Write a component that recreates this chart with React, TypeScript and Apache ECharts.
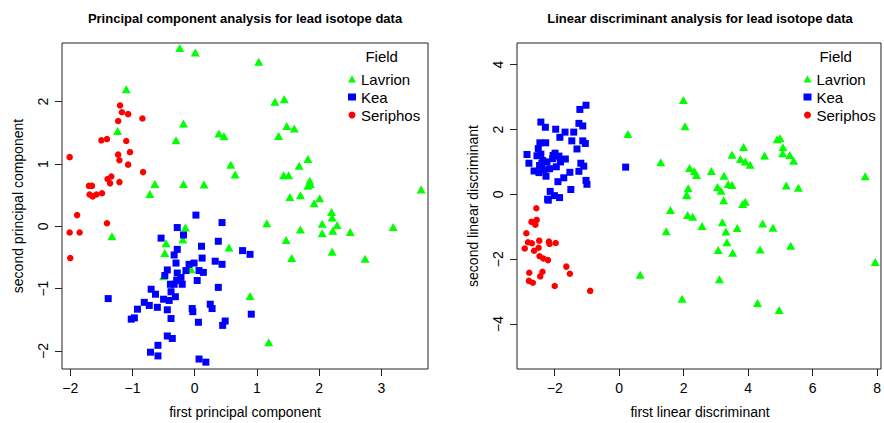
import React, { useEffect, useRef } from "react";
import * as echarts from "echarts";

// ---------- PCA panel data ----------
const pcaLavrion: number[][] = [
  [-0.24, 2.86], [0.01, 2.79], [-1.10, 2.20], [-1.24, 1.53], [-0.18, 1.65], [-0.30, 1.38],
  [0.39, 1.49], [0.47, 1.45], [0.58, 0.99], [0.65, 0.83], [-0.64, 0.68], [-0.18, 0.68],
  [0.15, 0.67], [-0.72, 0.52], [-1.33, -0.16], [-0.15, -0.02], [-0.46, -0.27], [-0.19, -0.21],
  [-0.48, -0.43], [0.55, -0.34], [-0.06, -0.69], [-0.50, -0.80], [0.89, -1.12],
  [1.03, 2.64], [1.29, 2.00], [1.44, 2.04], [1.48, 1.61], [1.60, 1.57], [1.35, 1.45],
  [1.82, 1.08], [1.68, 0.97], [1.43, 0.82], [1.51, 0.82], [1.85, 0.73], [1.82, 0.65],
  [1.86, 0.68], [3.64, 0.59], [1.53, 0.47], [1.70, 0.50], [2.01, 0.45], [1.92, 0.37],
  [2.20, 0.23], [2.21, 0.14], [1.16, 0.05], [1.70, -0.05], [2.05, 0.04], [2.29, 0.02],
  [2.05, -0.11], [2.22, -0.07], [2.50, -0.09], [3.19, -0.01], [1.47, -0.22], [1.56, -0.51],
  [2.21, -0.41], [2.74, -0.52], [1.19, -1.86]
];
const pcaKea: number[][] = [
  [0.02, 0.18], [0.44, 0.06], [-0.28, -0.02], [-0.18, -0.14], [-0.54, -0.19], [0.11, -0.32],
  [0.38, -0.24], [-0.28, -0.37], [-0.33, -0.46], [0.77, -0.39], [0.89, -0.45], [0.12, -0.51],
  [-0.30, -0.59], [-0.09, -0.61], [-0.01, -0.59], [0.33, -0.56], [0.44, -0.61], [-0.44, -0.70],
  [-0.48, -0.79], [-0.28, -0.75], [-0.14, -0.71], [0.07, -0.71], [0.14, -0.74], [-0.22, -0.82],
  [0.04, -0.87], [-0.29, -0.87], [-0.39, -0.93], [-0.33, -0.93], [-0.20, -0.93], [-0.70, -1.01],
  [0.38, -0.98], [-0.38, -1.05], [-0.63, -1.09], [-1.39, -1.16], [-0.50, -1.17], [-0.41, -1.19],
  [-0.31, -1.13], [-0.81, -1.22], [-0.73, -1.27], [-0.60, -1.30], [-0.92, -1.33], [-0.44, -1.34],
  [0.25, -1.25], [0.28, -1.32], [-0.04, -1.32], [-0.03, -1.37], [0.91, -1.41], [-1.02, -1.49],
  [-0.97, -1.47], [-0.38, -1.48], [0.06, -1.54], [0.49, -1.52], [0.45, -1.59], [-0.44, -1.76],
  [-0.36, -1.80], [-0.59, -1.91], [-0.71, -2.02], [-0.59, -2.08], [0.07, -2.13], [0.18, -2.18]
];
const pcaSeriphos: number[][] = [
  [-1.20, 1.94], [-1.17, 1.83], [-1.07, 1.80], [-1.23, 1.69], [-0.84, 1.73], [-1.50, 1.38],
  [-1.41, 1.40], [-1.10, 1.37], [-2.01, 1.11], [-1.23, 1.15], [-1.04, 1.19], [-1.21, 1.06],
  [-1.07, 0.99], [-0.83, 0.87], [-1.34, 0.80], [-1.40, 0.76], [-1.36, 0.69], [-1.21, 0.71],
  [-1.70, 0.65], [-1.65, 0.65], [-1.69, 0.51], [-1.64, 0.48], [-1.58, 0.51], [-1.49, 0.53],
  [-1.89, 0.18], [-1.41, 0.05], [-2.01, -0.10], [-1.85, -0.10], [-2.00, -0.51]
];

// ---------- LDA panel data ----------
const ldaLavrion: number[][] = [
  [2.10, -0.03], [1.59, -0.48], [2.12, -0.64], [2.28, -0.69], [1.46, -1.14], [0.65, -2.48],
  [1.95, -3.22], [1.99, 2.91], [2.04, 2.10], [0.27, 1.86], [1.29, 0.99], [2.18, 0.81],
  [2.33, 0.72], [2.40, 0.60], [2.14, 0.19], [2.09, -0.01], [4.90, 1.70], [4.99, 1.73],
  [5.08, 1.45], [3.86, 1.46], [3.50, 1.22], [4.51, 1.20], [5.07, 1.27], [5.29, 1.21],
  [5.41, 1.04], [3.76, 1.09], [3.91, 1.01], [4.06, 0.91], [2.86, 0.72], [3.25, 0.57],
  [3.38, 0.32], [3.50, 0.29], [3.05, 0.23], [3.16, 0.11], [5.18, 0.27], [5.56, 0.20],
  [7.63, 0.56], [3.24, -0.18], [3.83, -0.30], [3.91, -0.23], [2.57, -0.98], [3.20, -0.86],
  [3.31, -1.15], [3.66, -1.04], [4.45, -0.90], [4.77, -1.03], [3.34, -1.48], [3.07, -1.72],
  [3.52, -1.80], [4.37, -1.70], [5.32, -1.59], [7.94, -2.09], [3.11, -2.62], [4.29, -3.35],
  [4.96, -3.57]
];
const ldaKea: number[][] = [
  [-1.03, 2.75], [-1.22, 2.62], [-2.43, 2.23], [-2.29, 2.07], [-1.97, 2.01], [-1.68, 1.92],
  [-1.41, 1.92], [-1.84, 1.76], [-1.25, 2.19], [-1.13, 2.11], [-1.47, 1.65], [-1.13, 1.65],
  [-1.05, 1.57], [-2.46, 1.59], [-2.28, 1.59], [-1.31, 1.40], [-2.51, 1.41], [-2.86, 1.23],
  [-2.55, 1.19], [-2.43, 1.24], [-1.99, 1.27], [-1.87, 1.18], [-2.06, 1.10], [-1.67, 1.09],
  [-1.82, 1.00], [-2.80, 0.96], [-2.37, 1.04], [-2.24, 1.00], [-2.47, 0.89], [-2.16, 0.79],
  [-1.19, 0.96], [-1.10, 0.87], [-2.64, 0.72], [-2.49, 0.67], [-2.34, 0.75], [-2.27, 0.56],
  [-1.53, 0.68], [-1.25, 0.71], [0.20, 0.84], [-1.72, 0.51], [-1.90, 0.39], [-1.03, 0.43],
  [-1.00, 0.31], [-1.50, 0.15], [-2.14, 0.09], [-2.01, -0.04], [-1.85, -0.10], [-2.22, -0.15],
  [-2.20, -0.18], [-2.40, 0.95], [-2.05, 1.20], [-1.95, 0.85]
];
const ldaSeriphos: number[][] = [
  [-2.57, -0.43], [-2.72, -0.85], [-2.56, -0.79], [-2.60, -0.94], [-2.88, -1.20], [-2.83, -1.48],
  [-2.71, -1.51], [-2.48, -1.43], [-2.93, -1.67], [-2.64, -1.74], [-2.50, -1.65], [-2.18, -1.46],
  [-2.16, -1.53], [-1.97, -1.50], [-2.47, -1.91], [-2.35, -1.98], [-2.21, -2.03], [-2.79, -2.42],
  [-2.38, -2.39], [-2.45, -2.53], [-2.80, -2.67], [-2.68, -2.73], [-1.64, -2.23], [-1.53, -2.45],
  [-2.00, -2.83], [-0.90, -2.98]
];

// ---------- axis ticks ----------
const pcaXTicks = [-2, -1, 0, 1, 2, 3];
const pcaYTicks = [-2, -1, 0, 1, 2];
const ldaXTicks = [-2, 0, 2, 4, 6, 8];
const ldaYTicks = [-4, -2, 0, 2, 4];

const groups = ["Lavrion", "Kea", "Seriphos"];
const FONT = '"Liberation Sans", Arial, Helvetica, sans-serif';
const fmt = (v: number) => String(v).replace("-", "\u2212");

function makeAxis(ticks: number[], min: number, max: number, gridIndex: number, isY: boolean) {
  return {
    type: "value",
    gridIndex,
    min,
    max,
    position: isY ? "left" : "bottom",
    axisLine: { show: false, onZero: false },
    splitLine: { show: false },
    axisTick: {
      show: true,
      customValues: ticks,
      length: 7,
      inside: false,
      lineStyle: { color: "#222", width: 1 },
    },
    axisLabel: {
      show: true,
      customValues: ticks,
      formatter: fmt,
      margin: 12,
      rotate: isY ? 90 : 0,
      fontFamily: FONT,
      fontSize: 14,
      color: "#000",
    },
  };
}

export default function App() {
  const ref = useRef<HTMLDivElement>(null);
  useEffect(() => {
    document.body.style.margin = "0";
    if (!ref.current) return;
    const chart = echarts.init(ref.current, null, { renderer: "svg" });
    const symbols = ["triangle", "rect", "circle"];
    const sizes: any[] = [[9, 8], 7, 6.5];
    const colors = ["#00FF00", "#0000FF", "#FF0000"];
    const pcaData = [pcaLavrion, pcaKea, pcaSeriphos];
    const ldaData = [ldaLavrion, ldaKea, ldaSeriphos];
    const series: any[] = [];
    [pcaData, ldaData].forEach((set, gi) => {
      set.forEach((d, i) => {
        series.push({
          type: "scatter",
          name: groups[i],
          xAxisIndex: gi,
          yAxisIndex: gi,
          data: d,
          symbol: symbols[i],
          symbolSize: sizes[i],
          itemStyle: { color: colors[i], opacity: 1 },
          emphasis: { disabled: true },
          z: 2 + i,
        });
      });
    });
    const legendData = groups.map((g, i) => ({ name: g, icon: symbols[i] }));
    const legendBase = {
      orient: "vertical",
      top: 65,
      itemWidth: 8,
      itemHeight: 7,
      itemGap: 0,
      itemTextGap: 10,
      selectedMode: false,
      data: legendData,
      textStyle: { fontFamily: FONT, fontSize: 15, lineHeight: 18, color: "#000" },
    };
    const text = (t: string, x: number, y: number, size: number, bold = false, rot = 0) => ({
      type: "text",
      x,
      y,
      rotation: rot,
      style: {
        text: t,
        font: `${bold ? "bold " : ""}${size}px ${FONT}`,
        fill: "#000",
        textAlign: "center",
        textVerticalAlign: "middle",
        verticalAlign: "middle",
      },
    });
    chart.setOption({
      animation: false,
      backgroundColor: "#fff",
      grid: [
        { left: 62, top: 43, width: 366, height: 326, show: true, borderColor: "#222", borderWidth: 1, backgroundColor: "transparent" },
        { left: 517, top: 43, width: 365, height: 326, show: true, borderColor: "#222", borderWidth: 1, backgroundColor: "transparent" },
      ],
      xAxis: [
        makeAxis(pcaXTicks, -2.133, 3.751, 0, false),
        makeAxis(ldaXTicks, -3.17, 8.12, 1, false),
      ],
      yAxis: [
        makeAxis(pcaYTicks, -2.29, 2.942, 0, true),
        makeAxis(ldaYTicks, -5.39, 4.67, 1, true),
      ],
      legend: [
        { ...legendBase, left: 343 },
        { ...legendBase, left: 798.5 },
      ],
      graphic: [
        text("Principal component analysis for lead isotope data", 245, 18, 13, true),
        text("Linear discriminant analysis for lead isotope data", 700, 18, 13, true),
        text("first principal component", 245, 412, 14),
        text("first linear discriminant", 700, 412, 14),
        text("second principal component", 18, 206, 14, false, Math.PI / 2),
        text("second linear discriminant", 473, 206, 14, false, Math.PI / 2),
        text("Field", 381.7, 56, 15),
        text("Field", 835.7, 56, 15),
      ],
      series,
    });
    return () => chart.dispose();
  }, []);
  return (
    <div
      ref={ref}
      style={{ width: 884, height: 423, position: "fixed", left: 0, top: 0, background: "#fff" }}
    />
  );
}
